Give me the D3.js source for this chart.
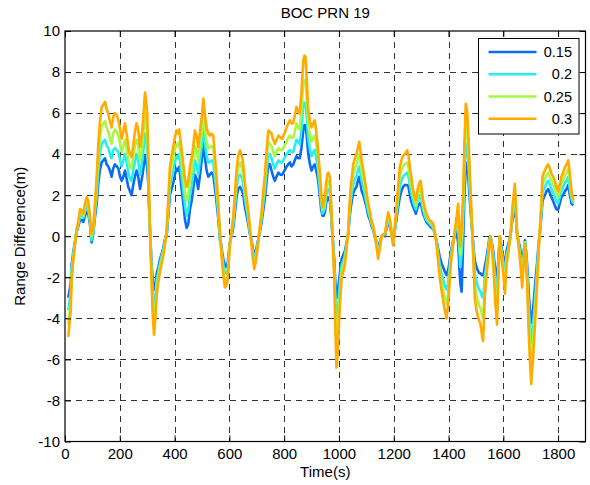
<!DOCTYPE html>
<html>
<head>
<meta charset="utf-8">
<script src="https://cdn.jsdelivr.net/npm/d3@7/dist/d3.min.js"></script>
<style>
  html, body { margin: 0; padding: 0; background: #fff; }
  svg { display: block; font-family: "Liberation Sans", Arial, sans-serif; }
</style>
</head>
<body>
<svg id="chart" width="590" height="485"></svg>
<script>
const time = [
  12, 21, 24, 30, 36, 42, 49, 55, 61, 67,
  73, 79, 85, 91, 97, 103, 109, 115, 121, 127,
  134, 140, 146, 152, 158, 164, 170, 176, 182, 189,
  195, 201, 207, 213, 219, 225, 231, 237, 243, 249,
  255, 261, 266, 274, 279, 283, 288, 292, 296, 300,
  304, 308, 312, 316, 320, 325, 330, 335, 341, 347,
  352, 358, 364, 371, 377, 383, 389, 395, 401, 407,
  413, 417, 424, 432, 438, 444, 450, 456, 462, 468,
  474, 480, 486, 492, 499, 505, 511, 517, 523, 529,
  535, 541, 547, 553, 560, 566, 570, 574, 579, 584,
  589, 593, 598, 602, 608, 614, 620, 626, 632, 639,
  643, 647, 652, 657, 663, 669, 675, 681, 686, 691,
  697, 703, 710, 718, 724, 730, 736, 742, 748, 754,
  760, 766, 772, 779, 786, 793, 801, 809, 815, 821,
  827, 833, 839, 845, 851, 857, 863, 870, 874, 878,
  883, 888, 894, 900, 906, 912, 917, 922, 926, 930,
  935, 940, 944, 949, 953, 958, 962, 967, 971, 975,
  979, 983, 987, 991, 995, 1000, 1005, 1010, 1016, 1022,
  1028, 1034, 1038, 1043, 1048, 1052, 1058, 1064, 1069, 1074,
  1078, 1083, 1089, 1095, 1101, 1107, 1113, 1119, 1125, 1131,
  1137, 1143, 1149, 1156, 1162, 1168, 1174, 1180, 1185, 1189,
  1193, 1198, 1204, 1210, 1216, 1222, 1228, 1234, 1241, 1249,
  1254, 1259, 1264, 1269, 1275, 1281, 1285, 1289, 1294, 1298,
  1302, 1307, 1313, 1319, 1325, 1332, 1338, 1344, 1350, 1356,
  1362, 1368, 1374, 1380, 1386, 1393, 1398, 1402, 1406, 1411,
  1417, 1423, 1429, 1435, 1439, 1443, 1448, 1453, 1458, 1463,
  1468, 1473, 1478, 1483, 1488, 1492, 1496, 1502, 1508, 1512,
  1517, 1522, 1526, 1529, 1532, 1538, 1545, 1549, 1553, 1558,
  1563, 1567, 1571, 1577, 1582, 1587, 1591, 1596, 1601, 1606,
  1612, 1618, 1624, 1629, 1633, 1638, 1642, 1646, 1650, 1655,
  1660, 1665, 1669, 1674, 1679, 1683, 1687, 1690, 1694, 1698,
  1702, 1705, 1709, 1714, 1719, 1724, 1728, 1732, 1736, 1740,
  1743, 1748, 1752, 1758, 1764, 1770, 1776, 1782, 1788, 1794,
  1800, 1806, 1812, 1818, 1825, 1831, 1837, 1843, 1849, 1855
];

const r015 = [
  -3.0, -2.3, -1.4, -0.8, -0.3, 0.2, 0.5, 0.8, 0.8, 0.7,
  1.0, 1.2, 1.1, 0.6, -0.3, 0.1, 0.9, 1.5, 2.5, 3.2,
  3.6, 3.7, 3.8, 3.5, 3.4, 3.2, 2.9, 3.3, 3.5, 3.4,
  3.3, 2.9, 2.7, 2.9, 3.2, 2.8, 2.4, 2.2, 2.0, 2.5,
  2.9, 3.2, 3.0, 2.3, 2.7, 3.0, 3.5, 3.9, 3.7, 3.4,
  2.5, 1.0, -0.2, -1.3, -2.2, -2.6, -2.3, -1.8, -1.5, -1.1,
  -0.9, -0.6, -0.2, 0.0, 1.0, 2.0, 2.3, 2.6, 3.0, 3.3,
  3.2, 3.4, 2.5, 1.6, 0.8, 0.4, 0.6, 1.3, 1.7, 2.3,
  3.0, 2.8, 2.3, 2.9, 3.7, 4.6, 3.8, 3.2, 2.9, 3.0,
  3.1, 3.0, 2.4, 1.7, 0.8, -0.2, -0.4, -0.8, -1.2, -1.4,
  -1.5, -1.4, -0.8, -0.3, 0.0, 0.4, 1.1, 1.9, 2.3, 2.4,
  2.3, 2.2, 1.9, 1.4, 1.0, 0.6, 0.1, -0.2, -0.6, -0.9,
  -0.7, -0.3, 0.1, 0.7, 1.3, 1.9, 2.7, 3.5, 3.5, 3.2,
  2.9, 2.7, 2.9, 3.1, 3.0, 3.0, 3.2, 3.4, 3.5, 3.6,
  3.4, 3.5, 3.7, 3.9, 3.8, 3.8, 4.3, 5.2, 5.4, 5.4,
  4.8, 4.0, 3.5, 3.2, 3.4, 3.5, 3.2, 2.9, 2.5, 2.0,
  1.3, 1.0, 1.0, 1.2, 1.6, 1.9, 1.9, 1.7, 1.1, 0.3,
  -0.4, -1.2, -2.3, -3.0, -2.8, -2.2, -1.6, -1.1, -0.9, -0.7,
  -0.3, 0.1, 0.8, 1.4, 1.8, 2.1, 2.3, 2.4, 2.7, 2.9,
  2.6, 2.2, 2.0, 1.7, 1.4, 1.0, 0.8, 0.5, 0.3, 0.0,
  -0.3, -0.6, -0.3, 0, 0.1, 0.0, 0.4, 0.7, 0.5, 0.3,
  0.0, -0.2, 0.3, 0.8, 1.4, 1.9, 2.2, 2.4, 2.5, 2.5,
  2.4, 2.0, 1.7, 1.5, 1.3, 1.1, 1.3, 1.5, 1.6, 1.6,
  1.4, 1.1, 0.9, 0.7, 0.6, 0.5, 0.4, 0.4, 0.1, -0.2,
  -0.6, -1.0, -1.3, -1.5, -1.7, -1.9, -1.7, -1.4, -1.0, -0.6,
  -0.2, 0.0, 0.2, -0.3, -1.4, -2.3, -2.7, -0.5, 2.0, 3.5,
  3.6, 2.7, 1.7, 0.8, 0.0, -0.7, -1.2, -1.5, -1.7, -1.8,
  -1.8, -1.9, -1.9, -1.8, -1.5, -1.1, -0.5, -0.1, 0, -0.3,
  -0.7, -1.2, -1.7, -2.2, -1.1, 0, -0.3, -0.7, -1.1, -1.5,
  -0.7, -0.4, -0.1, 0.3, 0.8, 1.1, 1.4, 0.9, 0.1, -0.2,
  -0.5, -0.9, -1.3, -0.8, -0.2, -0.7, -1.4, -2.1, -3.0, -3.8,
  -4.2, -3.9, -3.5, -2.7, -1.9, -1.2, -0.5, 0, 0.5, 1.2,
  1.7, 1.9, 2.0, 2.2, 2.3, 2.1, 1.9, 1.7, 1.5, 1.3,
  1.3, 1.6, 1.9, 2.0, 2.2, 2.3, 2.5, 2.0, 1.6, 1.5
];

const r020 = [
  -3.6, -2.7, -1.6, -0.9, -0.4, 0.2, 0.6, 1.0, 1.0, 0.9,
  1.2, 1.4, 1.3, 0.7, -0.2, 0.2, 1.1, 1.9, 3.1, 4.0,
  4.5, 4.6, 4.7, 4.4, 4.3, 4.0, 3.8, 4.2, 4.3, 4.2,
  4.1, 3.7, 3.4, 3.7, 4.0, 3.6, 3.1, 2.8, 2.7, 3.2,
  3.6, 4.0, 3.8, 3.0, 3.4, 3.8, 4.4, 5.0, 4.7, 4.3,
  3.0, 1.1, -0.3, -1.6, -2.8, -3.4, -2.9, -2.1, -1.7, -1.3,
  -1.0, -0.7, -0.3, 0.1, 1.2, 2.4, 2.8, 3.2, 3.6, 3.9,
  3.8, 4.0, 3.1, 2.2, 1.5, 1.0, 1.3, 2.0, 2.4, 3.0,
  3.7, 3.5, 3.0, 3.6, 4.4, 5.3, 4.5, 3.9, 3.6, 3.6,
  3.7, 3.6, 2.9, 2.1, 1.0, -0.1, -0.5, -1.0, -1.5, -1.8,
  -1.8, -1.7, -0.9, -0.3, 0.1, 0.6, 1.4, 2.3, 2.9, 3.0,
  2.9, 2.8, 2.4, 1.8, 1.3, 0.8, 0.2, -0.3, -0.8, -1.1,
  -0.8, -0.4, 0.2, 0.9, 1.6, 2.3, 3.2, 4.0, 4.0, 3.8,
  3.5, 3.3, 3.5, 3.7, 3.6, 3.6, 3.8, 4.0, 4.1, 4.2,
  4.1, 4.1, 4.4, 4.7, 4.6, 4.5, 5.2, 6.4, 6.5, 6.5,
  5.7, 4.7, 4.2, 3.9, 4.1, 4.2, 3.8, 3.4, 2.9, 2.4,
  1.6, 1.1, 1.2, 1.4, 1.9, 2.3, 2.3, 2.1, 1.3, 0.4,
  -0.5, -1.5, -3.0, -4.2, -3.8, -2.9, -2.0, -1.4, -1.2, -0.9,
  -0.4, 0.2, 1.0, 1.7, 2.2, 2.5, 2.8, 2.9, 3.2, 3.4,
  3.1, 2.7, 2.4, 2.0, 1.6, 1.2, 0.9, 0.6, 0.4, 0.1,
  -0.3, -0.8, -0.4, 0, 0.1, 0.1, 0.5, 0.8, 0.6, 0.4,
  0.0, -0.3, 0.3, 1.0, 1.7, 2.4, 2.7, 2.9, 3.0, 3.1,
  2.9, 2.5, 2.1, 1.8, 1.5, 1.3, 1.6, 1.8, 1.9, 2.0,
  1.7, 1.3, 1.0, 0.8, 0.7, 0.6, 0.5, 0.4, 0.1, -0.2,
  -0.8, -1.4, -1.8, -2.1, -2.4, -2.6, -2.3, -1.8, -1.2, -0.7,
  -0.3, 0.1, 0.5, 0.6, -0.6, -1.5, -0.8, 0.6, 3.0, 4.5,
  4.4, 3.4, 2.1, 1.0, -0.1, -1.0, -1.8, -2.2, -2.5, -2.6,
  -2.7, -2.9, -3.0, -2.6, -2.0, -1.4, -0.7, -0.2, 0, -0.4,
  -0.9, -1.6, -2.2, -2.9, -1.4, 0, -0.4, -0.9, -1.4, -1.9,
  -0.9, -0.6, -0.1, 0.4, 1.0, 1.4, 1.8, 1.1, 0.2, -0.3,
  -0.7, -1.2, -1.7, -1.0, -0.3, -0.9, -1.7, -2.6, -3.7, -4.6,
  -5.2, -4.8, -4.3, -3.4, -2.4, -1.5, -0.7, 0, 0.7, 1.5,
  2.1, 2.3, 2.4, 2.6, 2.7, 2.5, 2.3, 2.1, 1.9, 1.7,
  1.6, 1.9, 2.2, 2.4, 2.6, 2.7, 2.9, 2.3, 1.8, 1.6
];

const r025 = [
  -4.3, -3.2, -1.9, -1.1, -0.4, 0.3, 0.7, 1.2, 1.1, 1.0,
  1.4, 1.6, 1.5, 0.9, 0.0, 0.3, 1.3, 2.3, 3.7, 4.7,
  5.4, 5.5, 5.6, 5.3, 5.1, 4.8, 4.5, 5.0, 5.2, 5.1,
  4.9, 4.5, 4.1, 4.4, 4.7, 4.3, 3.7, 3.4, 3.3, 3.8,
  4.4, 4.7, 4.5, 3.7, 4.1, 4.5, 5.3, 6.0, 5.6, 5.1,
  3.5, 1.3, -0.4, -1.9, -3.3, -4.1, -3.5, -2.5, -2.0, -1.5,
  -1.2, -0.9, -0.4, 0.2, 1.5, 2.9, 3.3, 3.8, 4.2, 4.5,
  4.4, 4.6, 3.8, 2.9, 2.1, 1.7, 2.0, 2.7, 3.1, 3.7,
  4.4, 4.2, 3.7, 4.3, 5.1, 6.0, 5.2, 4.6, 4.3, 4.3,
  4.4, 4.3, 3.5, 2.5, 1.3, 0.0, -0.6, -1.2, -1.8, -2.2,
  -2.1, -2.0, -1.1, -0.4, 0.2, 0.8, 1.7, 2.8, 3.4, 3.6,
  3.4, 3.3, 2.8, 2.2, 1.6, 1.0, 0.3, -0.4, -1.0, -1.4,
  -1.0, -0.5, 0.2, 1.1, 1.9, 2.7, 3.7, 4.6, 4.5, 4.4,
  4.1, 3.9, 4.1, 4.3, 4.2, 4.2, 4.4, 4.6, 4.8, 4.9,
  4.8, 4.8, 5.1, 5.5, 5.3, 5.2, 6.1, 7.5, 7.6, 7.6,
  6.6, 5.4, 4.9, 4.6, 4.8, 4.9, 4.5, 4.0, 3.4, 2.8,
  1.9, 1.3, 1.4, 1.7, 2.2, 2.7, 2.7, 2.5, 1.6, 0.5,
  -0.7, -1.8, -3.8, -5.3, -4.8, -3.6, -2.5, -1.7, -1.4, -1.1,
  -0.5, 0.2, 1.2, 2.1, 2.6, 3.0, 3.3, 3.5, 3.8, 4.0,
  3.7, 3.2, 2.8, 2.4, 1.9, 1.4, 1.1, 0.7, 0.4, 0.1,
  -0.4, -0.9, -0.5, 0, 0.1, 0.1, 0.6, 1.0, 0.8, 0.5,
  0.0, -0.4, 0.4, 1.2, 2.1, 2.9, 3.2, 3.4, 3.5, 3.6,
  3.4, 2.9, 2.5, 2.1, 1.8, 1.5, 1.8, 2.1, 2.3, 2.3,
  2.0, 1.5, 1.2, 1.0, 0.8, 0.7, 0.6, 0.5, 0.2, -0.3,
  -1.0, -1.7, -2.2, -2.6, -3.0, -3.3, -2.9, -2.2, -1.5, -0.9,
  -0.3, 0.2, 0.7, 1.2, 0.1, -0.9, 0.0, 1.4, 3.8, 5.5,
  5.3, 4.1, 2.6, 1.2, -0.1, -1.3, -2.4, -2.9, -3.2, -3.4,
  -3.5, -3.8, -4.0, -3.4, -2.5, -1.7, -0.9, -0.3, 0, -0.5,
  -1.1, -1.9, -2.8, -3.6, -1.7, 0, -0.5, -1.1, -1.7, -2.4,
  -1.1, -0.7, -0.2, 0.4, 1.2, 1.7, 2.2, 1.3, 0.2, -0.3,
  -0.9, -1.5, -2.1, -1.2, -0.3, -1.1, -2.0, -3.1, -4.4, -5.4,
  -6.2, -5.7, -5.1, -4.0, -2.9, -1.9, -0.9, 0, 0.8, 1.7,
  2.5, 2.7, 2.8, 3.0, 3.1, 2.9, 2.7, 2.5, 2.3, 2.1,
  1.9, 2.2, 2.6, 2.7, 3.0, 3.1, 3.3, 2.7, 2.0, 1.7
];

const r030 = [
  -4.9, -3.6, -2.2, -1.2, -0.5, 0.3, 0.76, 1.33, 1.25, 1.1,
  1.6, 1.9, 1.7, 1.0, 0.1, 0.45, 1.5, 2.7, 4.35, 5.5,
  6.3, 6.4, 6.55, 6.2, 5.97, 5.6, 5.3, 5.8, 6.0, 5.9,
  5.65, 5.2, 4.75, 5.1, 5.5, 5.0, 4.35, 4.0, 3.85, 4.4,
  5.07, 5.5, 5.3, 4.35, 4.8, 5.3, 6.2, 7.0, 6.6, 5.97,
  4.0, 1.4, -0.5, -2.2, -3.8, -4.8, -4.0, -2.8, -2.2, -1.7,
  -1.4, -1.0, -0.5, 0.28, 1.8, 3.37, 3.9, 4.35, 4.8, 5.15,
  5.0, 5.2, 4.4, 3.5, 2.8, 2.4, 2.7, 3.37, 3.8, 4.35,
  5.15, 4.9, 4.34, 5.0, 5.8, 6.7, 5.9, 5.3, 5.0, 4.9,
  5.0, 4.9, 4.0, 2.9, 1.5, 0.1, -0.6, -1.35, -2.0, -2.5,
  -2.4, -2.2, -1.2, -0.4, 0.3, 0.93, 2.0, 3.2, 3.9, 4.18,
  4.0, 3.85, 3.3, 2.55, 1.9, 1.25, 0.4, -0.4, -1.1, -1.6,
  -1.2, -0.55, 0.3, 1.25, 2.2, 3.04, 4.2, 5.15, 5.1, 5.0,
  4.7, 4.5, 4.7, 4.9, 4.8, 4.75, 5.0, 5.3, 5.5, 5.65,
  5.5, 5.5, 5.9, 6.3, 6.1, 5.97, 7.0, 8.57, 8.8, 8.73,
  7.5, 6.13, 5.6, 5.3, 5.5, 5.65, 5.1, 4.5, 3.8, 3.2,
  2.2, 1.4, 1.6, 1.9, 2.6, 3.04, 3.1, 2.88, 1.8, 0.6,
  -0.8, -2.16, -4.5, -6.4, -5.8, -4.3, -3.0, -2.0, -1.7, -1.35,
  -0.6, 0.28, 1.4, 2.4, 3.0, 3.5, 3.8, 4.0, 4.3, 4.6,
  4.2, 3.7, 3.2, 2.7, 2.1, 1.58, 1.2, 0.76, 0.5, 0.1,
  -0.5, -1.1, -0.6, 0, 0.1, 0.1, 0.7, 1.17, 0.9, 0.6,
  0.0, -0.45, 0.5, 1.4, 2.4, 3.37, 3.7, 3.93, 4.0, 4.18,
  3.9, 3.37, 2.9, 2.4, 2.0, 1.74, 2.1, 2.4, 2.6, 2.7,
  2.3, 1.74, 1.4, 1.1, 0.9, 0.76, 0.7, 0.6, 0.2, -0.37,
  -1.2, -2.0, -2.6, -3.1, -3.6, -4.0, -3.4, -2.65, -1.8, -1.0,
  -0.4, 0.28, 0.9, 1.58, 0.6, -0.5, 0.5, 1.9, 4.5, 6.45,
  6.1, 4.8, 3.04, 1.4, -0.2, -1.6, -3.0, -3.6, -3.95, -4.1,
  -4.3, -4.8, -5.1, -4.2, -3.0, -2.0, -1.0, -0.4, 0, -0.6,
  -1.35, -2.3, -3.3, -4.3, -2.0, 0, -0.6, -1.35, -2.0, -2.8,
  -1.35, -0.8, -0.2, 0.5, 1.4, 2.0, 2.55, 1.5, 0.28, -0.4,
  -1.0, -1.8, -2.5, -1.4, -0.37, -1.3, -2.3, -3.6, -5.1, -6.3,
  -7.2, -6.6, -5.9, -4.7, -3.45, -2.2, -1.0, 0, 0.93, 2.0,
  2.9, 3.1, 3.2, 3.4, 3.5, 3.3, 3.04, 2.9, 2.7, 2.4,
  2.2, 2.5, 2.9, 3.1, 3.37, 3.5, 3.7, 3.0, 2.2, 1.74
];

const seriesNames = ["0.15", "0.2", "0.25", "0.3"];
const seriesValues = [r015, r020, r025, r030];
const xTicks = [0, 200, 400, 600, 800, 1000, 1200, 1400, 1600, 1800];
const yTicks = [-10, -8, -6, -4, -2, 0, 2, 4, 6, 8, 10];
const xDomain = [0, 1900];
const yDomain = [-10, 10];
const titleText = "BOC PRN 19";
const xLabel = "Time(s)";
const yLabel = "Range Difference(m)";

// styles
const colors = ["#0a6cf4", "#27eeee", "#a6f845", "#ffab00"];

const svg = d3.select("#chart");
const L = 65, T = 31, R = 585.5, B = 441.5;
const W = R - L, H = B - T;

const x = d3.scaleLinear().domain(xDomain).range([L, R]);
const y = d3.scaleLinear().domain(yDomain).range([B, T]);

svg.append("rect").attr("x", 0).attr("y", 0).attr("width", 590).attr("height", 485).attr("fill", "#fff");

// grid
const grid = svg.append("g").attr("class", "grid");
grid.selectAll("line.gx").data(xTicks.filter(d => d > xDomain[0] && d < xDomain[1]))
  .join("line").attr("class", "gx")
  .attr("x1", d => Math.round(x(d)) + 0.5).attr("x2", d => Math.round(x(d)) + 0.5)
  .attr("y1", T).attr("y2", B)
  .attr("stroke", "#333").attr("stroke-width", 1).attr("stroke-dasharray", "6,5");
grid.selectAll("line.gy").data(yTicks.filter(d => d > yDomain[0] && d < yDomain[1]))
  .join("line").attr("class", "gy")
  .attr("y1", d => Math.round(y(d)) + 0.5).attr("y2", d => Math.round(y(d)) + 0.5)
  .attr("x1", L).attr("x2", R)
  .attr("stroke", "#333").attr("stroke-width", 1).attr("stroke-dasharray", "6,5");

// lines
const line = d3.line()
  .x((d, i) => x(time[i]))
  .y(d => y(d));

svg.append("g").selectAll("path.series")
  .data(seriesValues)
  .join("path")
  .attr("class", "series")
  .attr("d", d => line(d))
  .attr("fill", "none")
  .attr("stroke", (d, i) => colors[i])
  .attr("stroke-width", 2.6)
  .attr("stroke-linejoin", "round");

// axes
const fontSize = 15;
const fmt = d => String(d);
const axB = d3.axisBottom(x).tickValues(xTicks).tickSize(-6).tickPadding(7).tickFormat(fmt);
const axT = d3.axisTop(x).tickValues(xTicks).tickSize(-6).tickFormat("");
const axL = d3.axisLeft(y).tickValues(yTicks).tickSize(-6).tickPadding(5).tickFormat(fmt);
const axR = d3.axisRight(y).tickValues(yTicks).tickSize(-6).tickFormat("");

function styleAxis(g) {
  g.select(".domain").remove();
  g.selectAll(".tick line").attr("stroke", "#000");
  g.selectAll(".tick text").attr("fill", "#000").attr("font-size", fontSize)
    .attr("font-family", "Liberation Sans, Arial, sans-serif");
}
svg.append("g").attr("transform", `translate(0,${B})`).call(axB).call(styleAxis);
svg.append("g").attr("transform", `translate(0,${T})`).call(axT).call(styleAxis);
svg.append("g").attr("transform", `translate(${L},0)`).call(axL).call(styleAxis);
svg.append("g").attr("transform", `translate(${R},0)`).call(axR).call(styleAxis);

// box
svg.append("rect").attr("x", L).attr("y", T).attr("width", W).attr("height", H)
  .attr("fill", "none").attr("stroke", "#000").attr("stroke-width", 1.2);

// title and labels
svg.append("text").attr("x", (L + R) / 2).attr("y", 18).attr("text-anchor", "middle")
  .attr("font-size", 15).attr("fill", "#000").text(titleText);
svg.append("text").attr("x", (L + R) / 2).attr("y", 477).attr("text-anchor", "middle")
  .attr("font-size", 15).attr("fill", "#000").text(xLabel);
svg.append("text").attr("transform", `translate(25,${(T + B) / 2}) rotate(-90)`)
  .attr("text-anchor", "middle").attr("font-size", 15).attr("fill", "#000").text(yLabel);

// legend
const lg = svg.append("g");
lg.append("rect").attr("x", 478.5).attr("y", 38.5).attr("width", 100.5).attr("height", 95.5)
  .attr("fill", "#fff").attr("stroke", "#000").attr("stroke-width", 1);
const rowY = d3.scaleLinear().domain([0, 3]).range([52, 118.7]);
seriesNames.forEach((name, i) => {
  lg.append("line").attr("x1", 488.5).attr("x2", 536.5)
    .attr("y1", rowY(i)).attr("y2", rowY(i))
    .attr("stroke", colors[i]).attr("stroke-width", 2.6);
  lg.append("text").attr("x", 572).attr("y", rowY(i) + 5.2).attr("text-anchor", "end")
    .attr("font-size", 14.5).attr("fill", "#000").text(name);
});
</script>
</body>
</html>
